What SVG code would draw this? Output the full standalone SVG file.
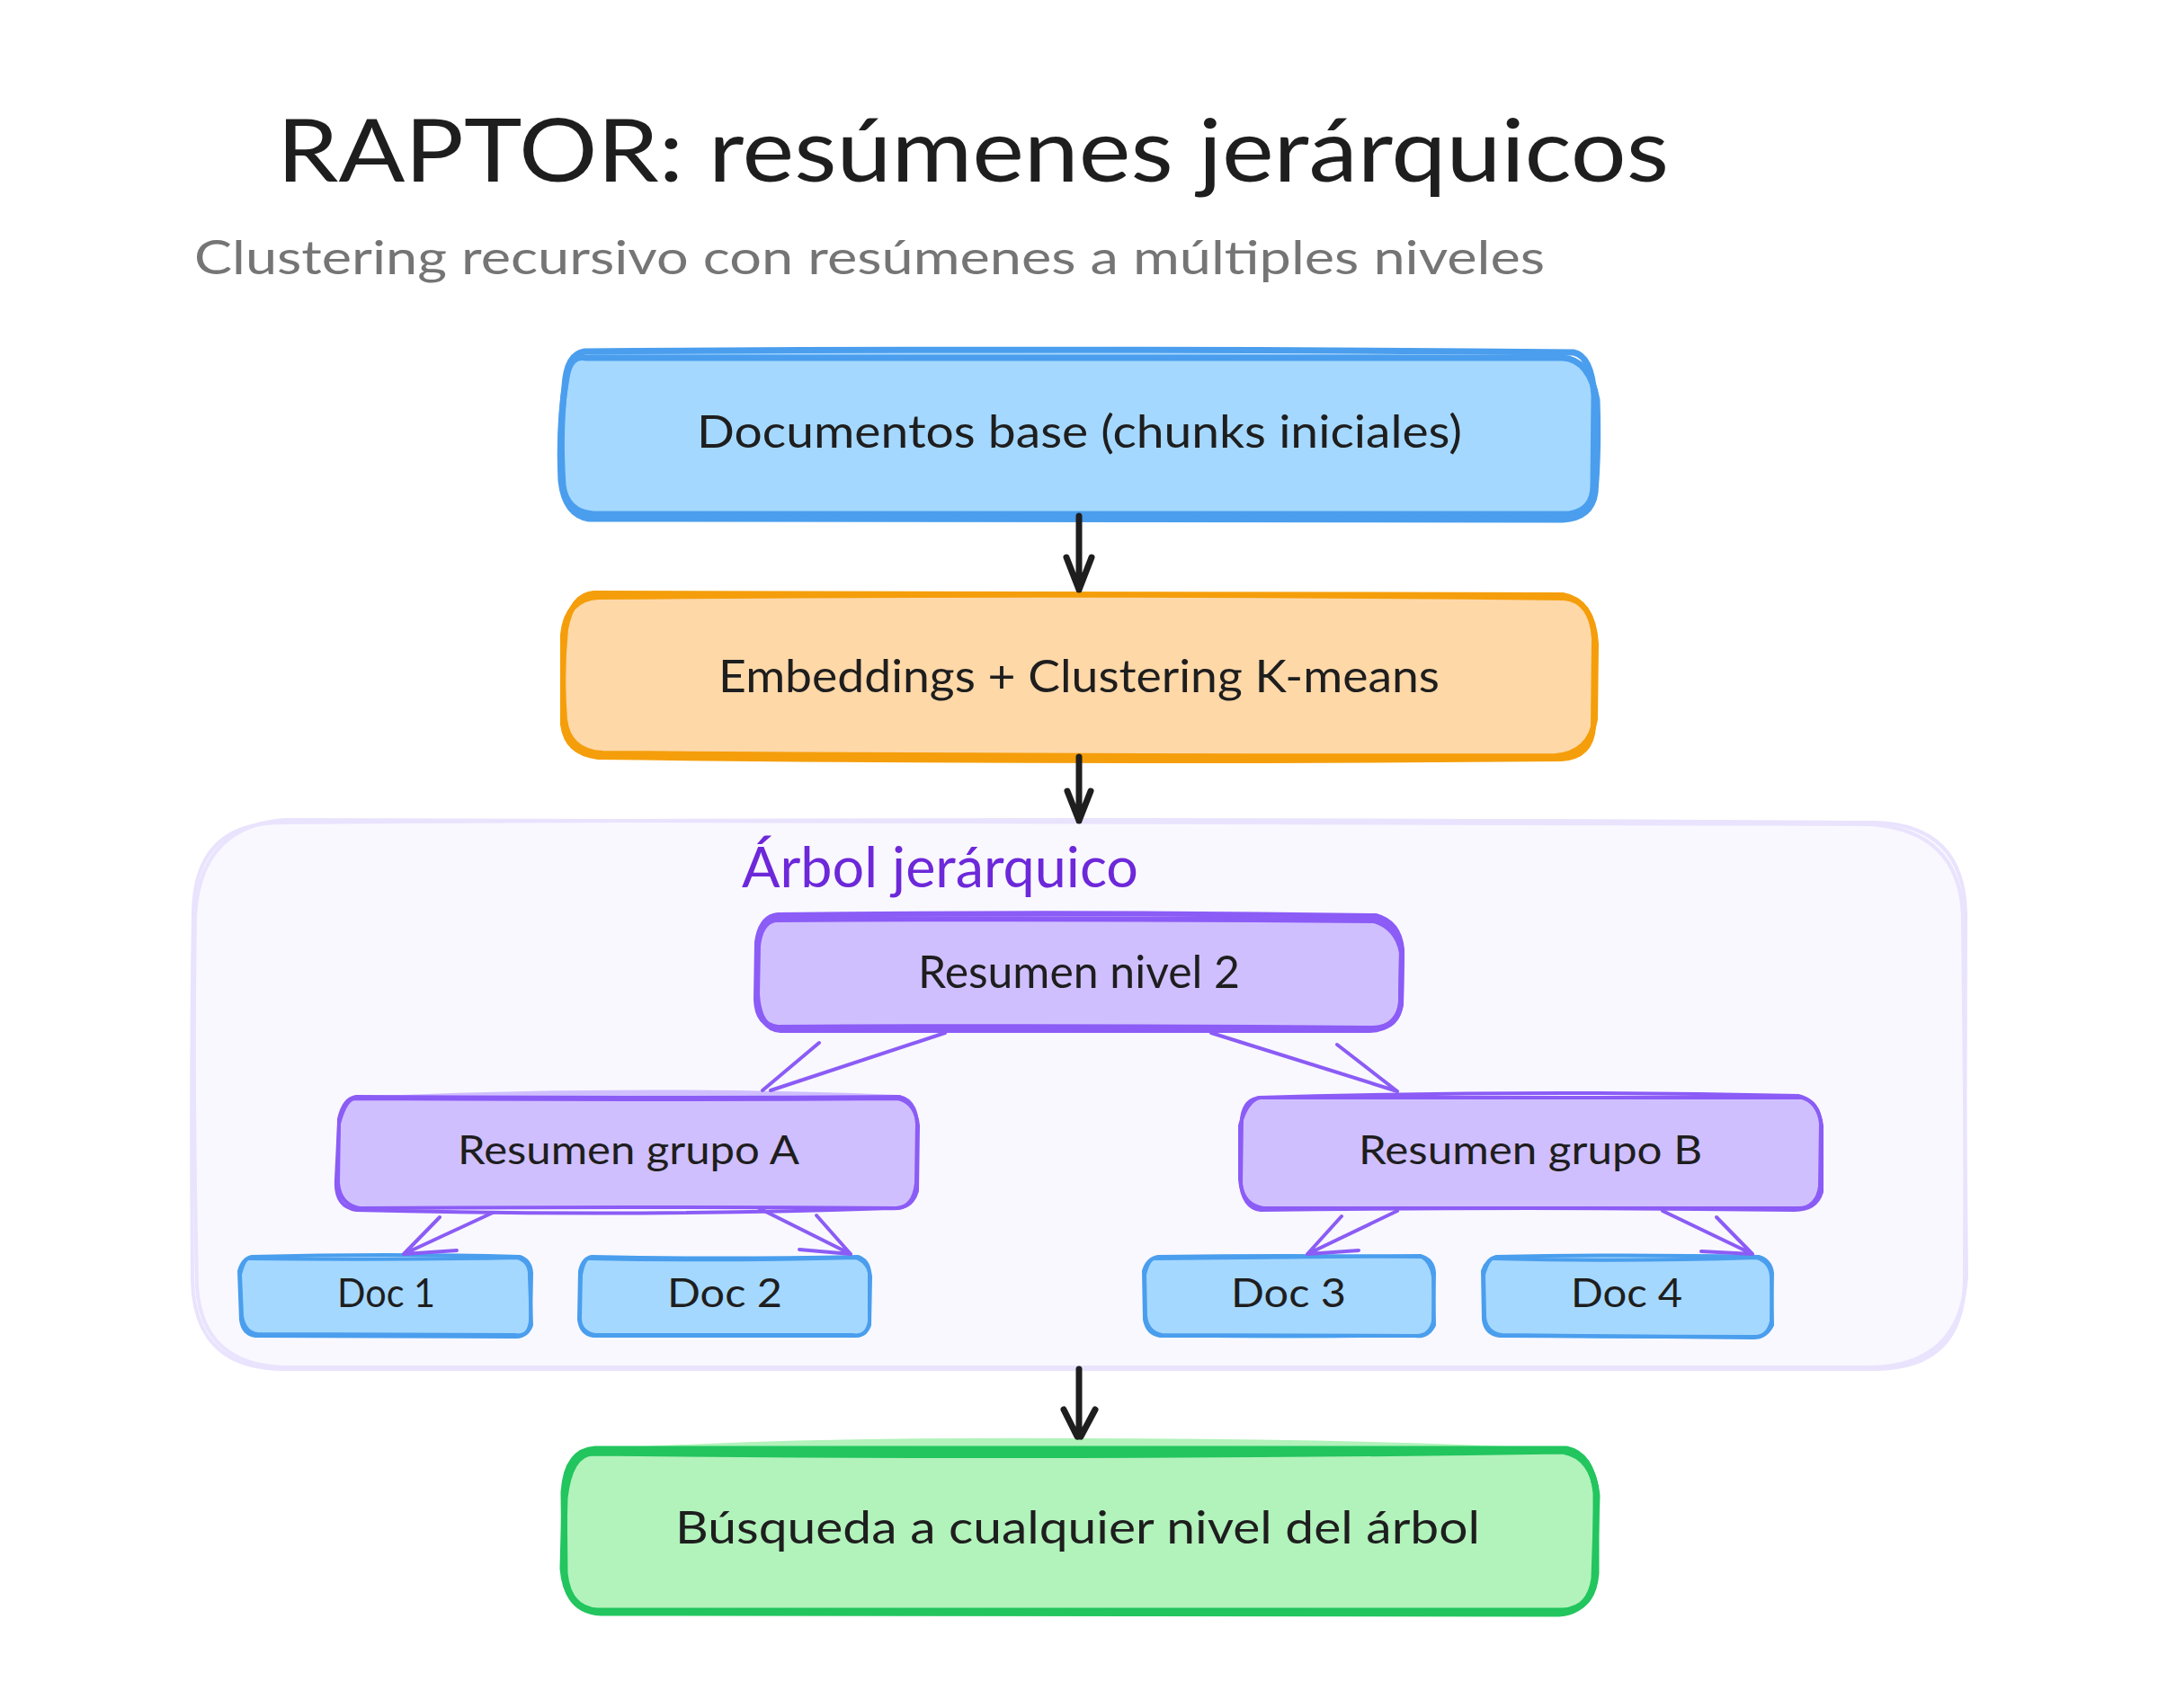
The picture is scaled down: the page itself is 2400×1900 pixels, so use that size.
<svg xmlns="http://www.w3.org/2000/svg" width="2400" height="1900" viewBox="0 0 2400 1900">
<defs>
<style>
text{font-family:"Lato","Noto Sans",sans-serif;fill:#1e1e1e}
.t{font-size:50px}
.s{font-size:44px}
.p{fill:none;stroke-linecap:round;stroke-linejoin:round}
.blue{fill:#a5d8ff}.bs{stroke:#4a9eed}
.org{fill:#ffd8a8}.os{stroke:#f59e0b}
.pur{fill:#d0bfff}.ps{stroke:#8b5cf6}
.grn{fill:#b2f2bb}.gs{stroke:#22c55e}
.w7{stroke-width:7}.w6{stroke-width:6}.w4{stroke-width:4}
.g{stroke:#e9e3fd;stroke-width:4}
.k{fill:none;stroke:#1e1e1e;stroke-width:7;stroke-linecap:round;stroke-linejoin:round}
.v{fill:none;stroke:#8b5cf6;stroke-width:4;stroke-linecap:round;stroke-linejoin:round}
</style>
</defs>
<rect width="2400" height="1900" fill="#ffffff"/>
<text id="title" x="308" y="202" font-size="96" textLength="1548" lengthAdjust="spacingAndGlyphs">RAPTOR: resúmenes jerárquicos</text>
<text id="subtitle" x="216" y="305" font-size="52" textLength="1502" lengthAdjust="spacingAndGlyphs" style="fill:#757575">Clustering recursivo con resúmenes a múltiples niveles</text>
<g id="group-arbol">
<path d="M314 914Q1200 908 2086 914Q2184 918 2185 1016L2184 1424Q2184 1522 2086 1522L314 1523Q216 1522 215 1424Q212 1200 216 1016Q216 914 314 914Z" fill="#f9f8ff"/>
<path class="p g" d="M314 915Q1200 909 2086 915Q2184 918 2186 1016L2185 1424Q2184 1522 2086 1523L314 1523Q216 1522 214 1424Q212 1200 215 1016Q216 915 314 915Z"/>
<path class="p g" d="M318 912Q1200 912 2080 917Q2180 924 2183 1020L2187 1420Q2180 1520 2080 1521L320 1521Q224 1520 219 1430Q214 1200 217 1020Q222 918 318 912Z"/>
<text x="825" y="987" font-size="62" textLength="441" lengthAdjust="spacingAndGlyphs" style="fill:#6d28d9">Árbol jerárquico</text>
</g>
<g id="node-docs">
<path class="blue" d="M660 394Q1200 390 1742 396Q1772 400 1774 440L1773 540Q1772 574 1740 576Q1200 580 660 574Q626 572 626 540Q622 480 628 430Q630 396 660 394Z"/>
<path class="p bs w7" d="M650 391Q1200 387 1750 392Q1770 396 1773 440L1772 540Q1772 568 1745 572Q1200 574 660 572Q630 570 626 540Q622 480 628 430Q630 394 650 391Z"/>
<path class="p bs w7" d="M652 398Q1200 397 1738 398Q1768 400 1776 445Q1778 500 1774 548Q1770 576 1738 578Q1200 579 655 577Q628 572 624 535Q621 470 630 420Q634 394 652 398Z"/>
<text class="t" x="775" y="498" textLength="851" lengthAdjust="spacingAndGlyphs">Documentos base (chunks iniciales)</text>
</g>
<g id="node-embed">
<path class="org" d="M665 663Q1200 660 1740 664Q1772 668 1773 710L1772 808Q1770 842 1736 844Q1200 846 665 842Q628 838 626 806L626 706Q630 664 665 663Z"/>
<path class="p os w6" d="M665 664Q1200 659 1740 665Q1770 668 1773 710L1772 808Q1770 842 1736 844Q1200 849 665 842Q630 838 626 806L626 706Q630 666 665 664Z"/>
<path class="p os w6" d="M660 660Q1200 663 1738 662Q1772 668 1775 716L1774 800Q1768 838 1730 841Q1200 842 670 838Q632 836 628 800Q624 750 629 700Q636 662 660 660Z"/>
<text class="t" x="799" y="770" textLength="802" lengthAdjust="spacingAndGlyphs">Embeddings + Clustering K-means</text>
</g>
<g id="node-n2">
<path class="pur" d="M865 1021Q1200 1018 1530 1022Q1556 1026 1558 1056L1557 1114Q1556 1144 1526 1145Q1200 1146 865 1144Q842 1140 841 1112L842 1048Q846 1022 865 1021Z"/>
<path class="p ps w6" d="M865 1018Q1200 1014 1530 1019Q1556 1026 1559 1056L1558 1114Q1556 1144 1526 1144Q1200 1141 865 1143Q842 1140 841 1112L842 1048Q846 1020 865 1018Z"/>
<path class="p ps w6" d="M862 1023Q1200 1021 1528 1024Q1554 1032 1559 1060L1558 1118Q1552 1146 1520 1146Q1200 1146 868 1146Q844 1144 842 1106L843 1052Q846 1026 862 1023Z"/>
<text class="t" x="1021" y="1099" textLength="358" lengthAdjust="spacingAndGlyphs">Resumen nivel 2</text>
</g>
<g id="node-a">
<path class="pur" d="M398 1220Q700 1206 1000 1218Q1020 1222 1021 1245L1020 1320Q1018 1344 996 1344Q700 1346 400 1344Q376 1340 375 1316L376 1244Q380 1222 398 1220Z"/>
<path class="p ps w4" d="M396 1220Q700 1222 1000 1220Q1018 1224 1020 1250L1019 1316Q1016 1344 996 1344Q700 1342 400 1344Q378 1340 376 1316L377 1245Q382 1222 396 1220Z"/>
<path class="p ps w4" d="M394 1222Q700 1224 998 1222Q1018 1226 1021 1252L1020 1325Q1014 1346 990 1344Q700 1354 396 1346Q372 1342 374 1312L377 1250Q384 1224 394 1222Z"/>
<text class="s" x="509" y="1295" textLength="380" lengthAdjust="spacingAndGlyphs">Resumen grupo A</text>
</g>
<g id="node-b">
<path class="pur" d="M1402 1220Q1700 1218 2004 1220Q2024 1226 2025 1250L2024 1320Q2020 1344 2000 1344Q1700 1344 1405 1344Q1382 1340 1380 1316L1381 1244Q1384 1222 1402 1220Z"/>
<path class="p ps w4" d="M1402 1221Q1700 1220 2004 1221Q2023 1226 2025 1250L2024 1320Q2020 1344 2000 1344Q1700 1344 1405 1344Q1382 1340 1380 1316L1381 1244Q1384 1222 1402 1221Z"/>
<path class="p ps w4" d="M1400 1221Q1700 1212 2000 1219Q2022 1224 2026 1252L2026 1326Q2020 1346 1996 1346Q1700 1342 1402 1346Q1382 1344 1379 1312L1379 1252Q1386 1226 1400 1221Z"/>
<text class="s" x="1511" y="1295" textLength="382" lengthAdjust="spacingAndGlyphs">Resumen grupo B</text>
</g>
<g id="node-doc1">
<path class="blue" d="M280 1399Q430 1398 578 1399Q590 1402 591 1416L590 1470Q588 1486 574 1486L284 1485Q270 1484 268 1468L266 1414Q270 1400 280 1399Z"/>
<path class="p bs w4" d="M280 1398Q430 1394 578 1398Q590 1402 591 1416L590 1470Q588 1487 574 1487L284 1486Q270 1484 268 1468L266 1414Q270 1400 280 1398Z"/>
<path class="p bs w4" d="M278 1400Q430 1402 576 1399Q590 1404 589 1420L591 1474Q586 1488 572 1485L286 1484Q272 1482 269 1464L267 1418Q272 1398 278 1400Z"/>
<text class="s" x="375" y="1454" textLength="109" lengthAdjust="spacingAndGlyphs">Doc 1</text>
</g>
<g id="node-doc2">
<path class="blue" d="M658 1399Q800 1398 956 1399Q966 1402 967 1416L966 1470Q964 1486 950 1486L660 1485Q646 1484 644 1468L645 1414Q648 1400 658 1399Z"/>
<path class="p bs w4" d="M658 1398Q800 1401 954 1398Q966 1402 967 1416L967 1470Q964 1487 950 1486L660 1486Q646 1484 644 1468L645 1414Q648 1400 658 1398Z"/>
<path class="p bs w4" d="M656 1400Q800 1403 952 1399Q966 1404 968 1420L967 1474Q962 1488 948 1485L662 1485Q644 1482 645 1464L646 1418Q650 1398 656 1400Z"/>
<text class="s" x="742" y="1454" textLength="128" lengthAdjust="spacingAndGlyphs">Doc 2</text>
</g>
<g id="node-doc3">
<path class="blue" d="M1290 1399Q1430 1396 1582 1399Q1594 1402 1595 1416L1594 1470Q1590 1486 1576 1486Q1430 1492 1290 1486Q1276 1484 1273 1468L1272 1414Q1276 1400 1290 1399Z"/>
<path class="p bs w4" d="M1288 1398Q1430 1396 1582 1398Q1594 1402 1595 1416L1594 1470Q1590 1486 1576 1486L1290 1486Q1276 1484 1273 1468L1272 1414Q1276 1400 1288 1398Z"/>
<path class="p bs w4" d="M1286 1400Q1430 1398 1580 1397Q1592 1404 1594 1420L1595 1474Q1588 1488 1574 1486L1292 1485Q1276 1482 1274 1464L1273 1418Q1278 1398 1286 1400Z"/>
<text class="s" x="1369" y="1454" textLength="128" lengthAdjust="spacingAndGlyphs">Doc 3</text>
</g>
<g id="node-doc4">
<path class="blue" d="M1664 1399Q1800 1396 1958 1397Q1970 1402 1972 1416L1971 1470Q1968 1486 1954 1486Q1800 1492 1668 1486Q1652 1484 1650 1468L1649 1414Q1654 1400 1664 1399Z"/>
<path class="p bs w4" d="M1664 1398Q1800 1395 1956 1398Q1969 1402 1971 1416L1970 1470Q1966 1487 1952 1487L1668 1486Q1652 1484 1650 1468L1649 1414Q1654 1400 1664 1398Z"/>
<path class="p bs w4" d="M1662 1400Q1800 1404 1954 1399Q1969 1404 1970 1420L1971 1474Q1964 1488 1950 1488L1670 1485Q1652 1482 1651 1464L1650 1418Q1656 1398 1662 1400Z"/>
<text class="s" x="1747" y="1454" textLength="124" lengthAdjust="spacingAndGlyphs">Doc 4</text>
</g>
<g id="node-search">
<path class="grn" d="M660 1612Q900 1598 1200 1600Q1500 1600 1745 1612Q1772 1618 1775 1660L1775 1750Q1772 1790 1738 1792Q1200 1794 660 1792Q628 1788 627 1750L627 1660Q630 1614 660 1612Z"/>
<path class="p gs w7" d="M662 1612Q1200 1612 1742 1612Q1770 1618 1775 1660L1775 1750Q1772 1790 1738 1792Q1200 1792 664 1792Q632 1790 628 1750L627 1660Q630 1614 662 1612Z"/>
<path class="p gs w7" d="M660 1616Q1200 1622 1738 1614Q1772 1620 1776 1664L1773 1756Q1768 1792 1734 1795Q1200 1795 668 1794Q630 1792 626 1745L628 1666Q634 1616 660 1616Z"/>
<text class="t" x="751" y="1717" textLength="895" lengthAdjust="spacingAndGlyphs">Búsqueda a cualquier nivel del árbol</text>
</g>
<g id="connectors">
<path class="k" d="M1200 574L1200 656M1186 620L1200 656L1214 620"/>
<path class="k" d="M1200 842L1200 913M1187 880L1200 913L1213 880"/>
<path class="k" d="M1200 1523L1200 1598M1183 1568L1198 1598M1218 1568L1202 1598"/>
<path class="v" d="M1051 1149L857 1213M911 1160L848 1213"/>
<path class="v" d="M1347 1149L1554 1214M1487 1162L1554 1214"/>
<path class="v" d="M548 1349L449 1395M489 1354L449 1395L508 1391"/>
<path class="v" d="M844 1344L946 1395M908 1352L946 1395L889 1390"/>
<path class="v" d="M1554 1347L1454 1395M1492 1353L1454 1395L1511 1391"/>
<path class="v" d="M1849 1347L1949 1395M1909 1354L1949 1395L1892 1392"/>
</g>
</svg>
